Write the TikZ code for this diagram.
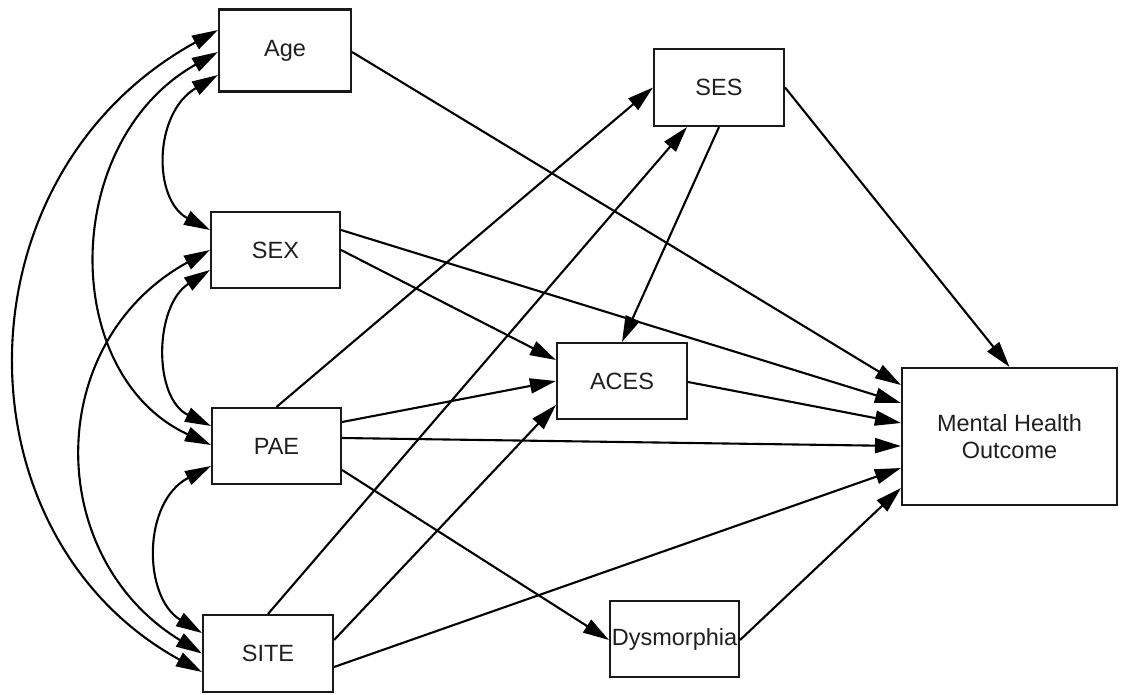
\documentclass[tikz,border=0pt]{standalone}
\usepackage{fontspec}
\setmainfont{Liberation Sans}
\usetikzlibrary{arrows.meta,calc}
\tikzset{
  box/.style={draw=black!90, line width=2.1pt, rectangle, inner sep=0pt, align=center,
    font=\fontsize{23.5}{27}\selectfont, text=black!88},
  tipstyle/.style={},
  link/.style={line width=2.1pt, -{Triangle[length=26pt,width=15pt]}},
  cov/.style={line width=2.1pt, {Triangle[length=26pt,width=15pt]}-{Triangle[length=26pt,width=15pt]}}
}
\begin{document}
\begin{tikzpicture}[x=1pt,y=-1pt]
\useasboundingbox (0,0) rectangle (1121,694);
% nodes
\node[box, minimum width=132pt, minimum height=82pt] (age) at (285,50.5) {Age};
\node[box, minimum width=129pt, minimum height=76pt] (sex) at (275.5,250) {SEX};
\node[box, minimum width=129pt, minimum height=76pt] (pae) at (276.5,446) {PAE};
\node[box, minimum width=130pt, minimum height=77pt] (site) at (268,653.5) {SITE};
\node[box, minimum width=130pt, minimum height=77pt] (ses) at (719,87.5) {SES};
\node[box, minimum width=130pt, minimum height=76pt] (aces) at (622,381) {ACES};
\node[box, minimum width=215pt, minimum height=137pt] (mho) at (1009.5,436.5) {Mental Health\\Outcome};
\node[box, minimum width=129pt, minimum height=76pt] (dys) at (674.5,639) {Dysmorphia};
% covariances
\draw[cov] ($(age.west)+(0,-20.5)$) .. controls +(-264,145) and +(-249,-137) .. ($(site.west)+(0,18.5)$);
\draw[cov] ($(age.west)+(0,1.5)$) .. controls +(-158,89) and +(-152,-70) .. ($(pae.west)+(0,-1)$);
\draw[cov] ($(age.west)+(0,24.5)$) .. controls +(-65,38.5) and +(-57,-30) .. ($(sex.west)+(0,-20)$);
\draw[cov] ($(sex.west)+(0,20)$) .. controls +(-56,36) and +(-58,-28) .. ($(pae.west)+(0,-20)$);
\draw[cov] (sex.west) .. controls +(-167,92) and +(-159,-97) .. (site.west);
\draw[cov] ($(pae.west)+(0,20)$) .. controls +(-69,36) and +(-59,-36) .. ($(site.west)+(0,-20.5)$);
% paths
\draw[link] ($(age.east)+(0,1.5)$) -- ($(mho.west)+(0,-51.5)$);
\draw[link] (ses.east) -- (mho.north);
\draw[link] (ses.south) -- (aces.north);
\draw[link] ($(sex.east)+(0,-20)$) -- ($(mho.west)+(0,-33.5)$);
\draw[link] (sex.east) -- ($(aces.west)+(0,-21)$);
\draw[link] ($(pae.east)+(0,-24)$) -- (aces.west);
\draw[link] ($(pae.east)+(0,-8)$) -- ($(mho.west)+(0,9.5)$);
\draw[link] (pae.north) -- (ses.west);
\draw[link] ($(pae.east)+(0,24)$) -- ($(dys.west)+(0,1)$);
\draw[link] (site.north) -- ($(ses.south)+(-32,0)$);
\draw[link] ($(site.east)+(0,-13.5)$) -- ($(aces.west)+(0,24)$);
\draw[link] ($(site.east)+(0,13.5)$) -- ($(mho.west)+(0,31.5)$);
\draw[link] ($(aces.east)+(0,1)$) -- ($(mho.west)+(0,-13.5)$);
\draw[link] ($(dys.east)+(0,1)$) -- ($(mho.west)+(0,51.5)$);
\end{tikzpicture}
\end{document}
